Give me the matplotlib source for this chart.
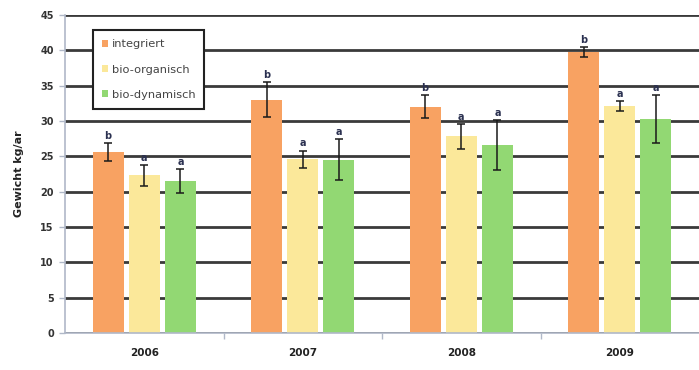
import matplotlib.pyplot as plt
import numpy as np

years = ["2006", "2007", "2008", "2009"]
series = ["integriert", "bio-organisch", "bio-dynamisch"]
integriert = [25.6, 33.0, 32.0, 39.7]
bio_organisch = [22.3, 24.6, 27.8, 32.1]
bio_dynamisch = [21.5, 24.5, 26.6, 30.3]
err_integriert = [1.3, 2.5, 1.6, 0.7]
err_bio_organisch = [1.5, 1.2, 1.8, 0.7]
err_bio_dynamisch = [1.7, 2.9, 3.5, 3.4]
letters_integriert = ["b", "b", "b", "b"]
letters_bio_organisch = ["a", "a", "a", "a"]
letters_bio_dynamisch = ["a", "a", "a", "a"]
y_ticks = [0, 5, 10, 15, 20, 25, 30, 35, 40, 45]

values = [integriert, bio_organisch, bio_dynamisch]
errors = [err_integriert, err_bio_organisch, err_bio_dynamisch]
letters = [letters_integriert, letters_bio_organisch, letters_bio_dynamisch]
colors = ["#F8A262", "#FBE89A", "#92D873"]

fig = plt.figure(figsize=(6.99, 3.70), dpi=100)
ax = fig.add_axes([0.093, 0.100, 0.907, 0.860])

x = np.arange(len(years))
offsets = [-0.228, 0.0, 0.228]
width = 0.196

for vals, errs, labs, col, off, name in zip(values, errors, letters, colors, offsets, series):
    ax.bar(x + off, vals, width, color=col, label=name, zorder=2)
    ax.errorbar(x + off, vals, yerr=errs, fmt="none", ecolor="#1a1a1a",
                elinewidth=1.1, capsize=3, capthick=1.1, zorder=3)
    for xi, v, e, t in zip(x + off, vals, errs, labs):
        ax.text(xi, v + e + 0.3, t, ha="center", va="bottom", fontsize=7,
                fontweight="bold", color="#2a3050", zorder=4)

ax.set_xlim(-0.5, 3.5)
ax.set_ylim(0, 45)
ax.set_yticks(y_ticks)
ax.set_yticklabels([str(t) for t in y_ticks], fontsize=7, color="#333333",
                   fontweight="bold")
ax.yaxis.grid(True, color="#3a3a3a", linewidth=2.0, zorder=1)
ax.set_axisbelow(True)

ax.set_xticks(x)
ax.set_xticklabels(years, fontsize=7.5, fontweight="bold", color="#222222")
ax.tick_params(axis="x", which="major", length=0, pad=11)
ax.set_xticks([0.5, 1.5, 2.5], minor=True)
ax.tick_params(axis="x", which="minor", length=4, color="#b0b8c8", width=1)
ax.tick_params(axis="y", length=4, color="#b0b8c8", width=1, pad=4)

for side in ["top", "right"]:
    ax.spines[side].set_visible(False)
for side in ["left", "bottom"]:
    ax.spines[side].set_color("#b0b8c8")
    ax.spines[side].set_linewidth(1.2)

ax.set_ylabel("Gewicht kg/ar", fontsize=8, fontweight="bold", color="#222222",
              labelpad=12)

leg = ax.legend(loc="upper left", bbox_to_anchor=(0.044, 0.952), fontsize=8.2,
                frameon=True, fancybox=False, handlelength=0.55, handleheight=0.55,
                handletextpad=0.3, labelspacing=1.35, borderpad=0.8,
                borderaxespad=0, labelcolor="#444444")
leg.get_frame().set_edgecolor("#222222")
leg.get_frame().set_linewidth(1.5)
leg.get_frame().set_facecolor("white")
leg.get_frame().set_alpha(1)
leg.set_zorder(5)

fig.savefig("out.png", dpi=100)
